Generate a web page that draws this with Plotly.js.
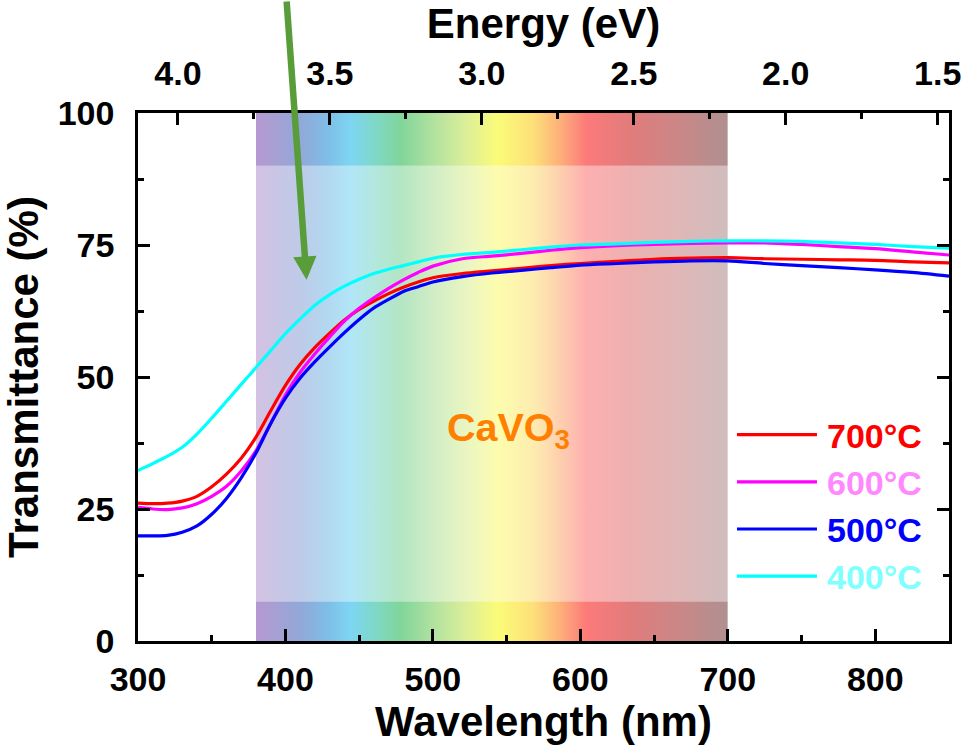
<!DOCTYPE html>
<html>
<head>
<meta charset="utf-8">
<script src="https://cdn.plot.ly/plotly-3.0.1.min.js"></script>
<style>
  html, body { margin: 0; padding: 0; background: #ffffff; }
  #chart { width: 965px; height: 747px; }
</style>
</head>
<body>
<div id="chart"></div>
<script>
// ---------------- data ----------------
const wavelength = [300, 310, 320, 330, 340, 350, 360, 370, 380, 390, 400, 410, 420, 430, 440, 450, 460, 470, 480, 490, 500,
                    520, 540, 560, 580, 600, 625, 650, 675, 700, 725, 750, 775, 800, 825, 850];
const t700 = [26.1, 26.0, 26.1, 26.5, 27.4, 29.2, 31.6, 34.6, 38.6, 43.6, 48.4, 52.4, 55.6, 58.3, 60.8, 62.8, 64.4, 65.8, 67.0, 68.0, 68.8,
              69.6, 70.1, 70.6, 71.1, 71.5, 71.9, 72.3, 72.5, 72.6, 72.4, 72.3, 72.2, 72.1, 71.8, 71.6];
const t600 = [25.3, 25.0, 24.9, 25.2, 26.0, 27.4, 29.3, 32.2, 36.0, 41.2, 46.6, 50.9, 54.4, 57.6, 60.6, 63.0, 65.0, 66.8, 68.4, 69.8, 71.0,
              72.4, 72.9, 73.4, 74.0, 74.5, 74.9, 75.1, 75.3, 75.4, 75.4, 75.1, 74.7, 74.3, 73.7, 73.1];
const t500 = [19.9, 19.9, 20.0, 20.6, 21.8, 24.0, 27.0, 30.9, 35.6, 41.2, 46.0, 49.8, 52.9, 55.7, 58.4, 60.9, 63.1, 64.7, 66.2, 67.1, 68.0,
              69.0, 69.7, 70.2, 70.7, 71.2, 71.5, 71.8, 72.0, 72.0, 71.5, 71.1, 70.7, 70.3, 69.8, 69.1];
const t400 = [32.3, 33.6, 35.0, 36.7, 39.2, 42.2, 45.4, 48.6, 51.8, 55.0, 58.2, 61.0, 63.6, 65.6, 67.2, 68.5, 69.6, 70.4, 71.1, 71.8, 72.5,
              73.2, 73.6, 74.1, 74.6, 75.0, 75.2, 75.5, 75.7, 75.8, 75.8, 75.7, 75.4, 75.1, 74.7, 74.4];
const seriesNames = ['700°C', '600°C', '500°C', '400°C'];
const energyTicks = [4.0, 3.5, 3.0, 2.5, 2.0, 1.5];
const sampleLabel = 'CaVO<sub>3</sub>';

// visible-spectrum backdrop (wavelength stops and colours)
const spectrumNm = [380, 410, 428, 444, 462, 478, 502, 523, 544, 568, 586, 604, 636, 670, 700];
const spectrumColor = ['#b699d0', '#92a8d8', '#7fbde6', '#7dd5f3', '#7fd8c4', '#80d59a', '#b5e2a0', '#dcef98',
                       '#fbfb78', '#fde07a', '#fdb07a', '#fc7a7a', '#e07c7c', '#c88888', '#b09090'];

// ---------------- styles ----------------
const FONT = '"Liberation Sans", Arial, Helvetica, sans-serif';
const lineColors = ['#ff0000', '#ff00ff', '#0000ff', '#00ffff'];
const labelColors = ['#ff0000', '#ff88ff', '#0000ff', '#80ffff'];

function spectrumImage() {
  const lo = spectrumNm[0], hi = spectrumNm[spectrumNm.length - 1];
  const stops = spectrumNm.map((nm, i) =>
    `<stop offset="${((nm - lo) / (hi - lo)).toFixed(4)}" stop-color="${spectrumColor[i]}"/>`).join('');
  const svg = `<svg xmlns="http://www.w3.org/2000/svg" width="320" height="100" viewBox="0 0 320 100" preserveAspectRatio="none">` +
    `<defs><linearGradient id="g" x1="0" y1="0" x2="1" y2="0">${stops}</linearGradient></defs>` +
    `<rect x="0" y="0" width="320" height="10" fill="url(#g)"/>` +
    `<rect x="0" y="10" width="320" height="82.5" fill="url(#g)" opacity="0.6"/>` +
    `<rect x="0" y="92.5" width="320" height="7.5" fill="url(#g)"/></svg>`;
  return 'data:image/svg+xml;charset=utf-8,' + encodeURIComponent(svg);
}

const series = [t700, t600, t500, t400];
const traces = series.map((t, i) => ({
  type: 'scatter', mode: 'lines',
  x: wavelength, y: t,
  name: `<span style="color:${labelColors[i]}">${seriesNames[i]}</span>`,
  line: { color: lineColors[i], width: 3.2, shape: 'spline', smoothing: 0.8 },
  xaxis: 'x', yaxis: 'y'
}));
// carrier for the top energy axis
traces.push({
  type: 'scatter', mode: 'lines', x: energyTicks, y: energyTicks.map(() => null),
  xaxis: 'x2', yaxis: 'y', showlegend: false, hoverinfo: 'skip'
});

const axisCommon = {
  ticks: 'inside', ticklen: 12, tickwidth: 2.5, tickcolor: '#000',
  showline: true, linewidth: 2.5, linecolor: '#000',
  showgrid: false, zeroline: false,
  tickfont: { family: FONT, size: 34, color: '#000', weight: 700 }
};

const layout = {
  width: 965, height: 747,
  margin: { l: 138, r: 16, t: 113, b: 106 },
  paper_bgcolor: '#ffffff', plot_bgcolor: 'rgba(0,0,0,0)',
  font: { family: FONT, size: 34, color: '#000', weight: 700 },
  showlegend: true,
  legend: {
    x: 0.7324, y: 0.4451, xanchor: 'left', yanchor: 'top',
    bgcolor: 'rgba(0,0,0,0)', borderwidth: 0, itemwidth: 85,
    font: { family: FONT, size: 34, weight: 700 }
  },
  xaxis: Object.assign({}, axisCommon, {
    range: [300, 850], tick0: 300, dtick: 100,
    minor: { dtick: 50, ticks: 'inside', ticklen: 6, tickwidth: 2.5, tickcolor: '#000' },
    ticklabelstandoff: 6,
    title: { text: 'Wavelength (nm)', font: { family: FONT, size: 42, weight: 700 }, standoff: 10 }
  }),
  xaxis2: Object.assign({}, axisCommon, {
    overlaying: 'x', side: 'top', anchor: 'y',
    range: [4.1314, 1.4628], tick0: 1.5, dtick: 0.5, tickformat: '.1f',
    minor: { dtick: 0.25, ticks: 'inside', ticklen: 6, tickwidth: 2.5, tickcolor: '#000' },
    ticklabelstandoff: 12,
    title: { text: 'Energy (eV)', font: { family: FONT, size: 42, weight: 700 }, standoff: 9 }
  }),
  yaxis: Object.assign({}, axisCommon, {
    range: [0, 100], tick0: 0, dtick: 25, mirror: 'ticks',
    minor: { dtick: 12.5, ticks: 'inside', ticklen: 6, tickwidth: 2.5, tickcolor: '#000' },
    ticklabelstandoff: 14,
    title: { text: 'Transmittance (%)', font: { family: FONT, size: 42, weight: 700 }, standoff: 20 }
  }),
  images: [{
    source: spectrumImage(), xref: 'x', yref: 'y',
    x: spectrumNm[0], y: 100, sizex: spectrumNm[spectrumNm.length - 1] - spectrumNm[0], sizey: 100,
    xanchor: 'left', yanchor: 'top', sizing: 'stretch', layer: 'below'
  }],
  annotations: [
    {
      xref: 'x', yref: 'y', x: 414.3, y: 68.4, ax: -20, ay: -292, text: '',
      showarrow: true, arrowhead: 2, arrowsize: 0.72, arrowwidth: 6.5, arrowcolor: '#589d3a'
    },
    {
      xref: 'x', yref: 'y', x: 551, y: 40, text: sampleLabel, showarrow: false,
      font: { family: FONT, size: 39.5, color: '#ff8000', weight: 700 }
    }
  ]
};

Plotly.newPlot('chart', traces, layout, { displayModeBar: false, responsive: false }).then(gd => {
  // lengthen the legend line samples to match the reference
  gd.querySelectorAll('.legend .legendlines path').forEach(p => p.setAttribute('d', 'M5,0h80'));
});
</script>
</body>
</html>
